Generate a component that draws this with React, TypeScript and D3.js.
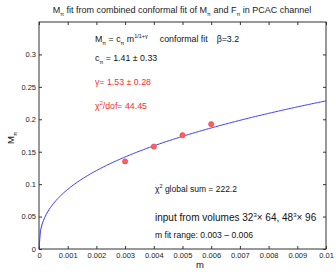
import React, { useEffect, useRef } from 'react';
import * as d3 from 'd3';

// measured data (m, M_pi)
const mValues = [0.003, 0.004, 0.005, 0.006];
const mpiValues = [0.135, 0.158, 0.1755, 0.1925];

// fit parameters shown on the chart
const cPi = 1.41;
const gammaFit = 1.53;

const xTicks = [0, 0.001, 0.002, 0.003, 0.004, 0.005, 0.006, 0.007, 0.008, 0.009, 0.01];
const xTickLabels = ['0', '0.001', '0.002', '0.003', '0.004', '0.005', '0.006', '0.007', '0.008', '0.009', '0.01'];
const yTicks = [0, 0.05, 0.1, 0.15, 0.2, 0.25, 0.3];
const yTickLabels = ['0', '0.05', '0.1', '0.15', '0.2', '0.25', '0.3'];

const FONT = '"Liberation Sans", Arial, Helvetica, sans-serif';

const App = () => {
  const ref = useRef(null);

  useEffect(() => {
    const W = 336, H = 273;
    const margin = { top: 22, right: 10, bottom: 24, left: 39 };
    const svg = d3.select(ref.current).attr('width', W).attr('height', H);
    svg.selectAll('*').remove();
    svg.append('rect').attr('width', W).attr('height', H).attr('fill', '#fff');

    const x = d3.scaleLinear().domain([0, 0.01]).range([margin.left, W - margin.right]);
    const y = d3.scaleLinear().domain([0, 0.35]).range([H - margin.bottom, margin.top]);

    const axisColor = '#333';
    const tl = 3;

    // bottom axis (ticks inside)
    const bottom = svg.append('g')
      .attr('transform', `translate(0,${H - margin.bottom})`)
      .call(d3.axisBottom(x).tickValues(xTicks).tickSizeInner(-tl).tickSizeOuter(0)
        .tickFormat((d, i) => xTickLabels[i]).tickPadding(5));
    // top axis ticks
    const top = svg.append('g')
      .attr('transform', `translate(0,${margin.top})`)
      .call(d3.axisTop(x).tickValues(xTicks).tickSizeInner(-tl).tickSizeOuter(0).tickFormat(() => ''));
    const left = svg.append('g')
      .attr('transform', `translate(${margin.left},0)`)
      .call(d3.axisLeft(y).tickValues(yTicks).tickSizeInner(-tl).tickSizeOuter(0)
        .tickFormat((d, i) => yTickLabels[i]).tickPadding(3));
    const right = svg.append('g')
      .attr('transform', `translate(${W - margin.right},0)`)
      .call(d3.axisRight(y).tickValues(yTicks).tickSizeInner(-tl).tickSizeOuter(0).tickFormat(() => ''));

    [bottom, top, left, right].forEach(g => {
      g.select('.domain').remove();
      g.selectAll('line').attr('stroke', axisColor);
      g.selectAll('text').style('font-family', FONT).style('font-size', '7.5px').attr('fill', '#222');
    });
    bottom.selectAll('text').attr('dy', '0.5em');

    // box
    svg.append('rect')
      .attr('x', margin.left).attr('y', margin.top)
      .attr('width', W - margin.left - margin.right)
      .attr('height', H - margin.top - margin.bottom)
      .attr('fill', 'none').attr('stroke', axisColor).attr('stroke-width', 1);

    // fit curve
    const curveM = d3.range(0, 0.01 + 1e-9, 0.00005);
    const line = d3.line<number>()
      .x(d => x(d))
      .y(d => y(cPi * Math.pow(d, 1 / (1 + gammaFit))));
    svg.append('path')
      .datum(curveM)
      .attr('d', line)
      .attr('fill', 'none')
      .attr('stroke', '#3a3aff')
      .attr('stroke-width', 1);

    // data points
    svg.append('g').selectAll('circle')
      .data(mValues)
      .enter().append('circle')
      .attr('cx', (d) => x(d))
      .attr('cy', (d, i) => y(mpiValues[i]))
      .attr('r', 2.6)
      .attr('fill', '#ff6060')
      .attr('stroke', '#f03a3a')
      .attr('stroke-width', 0.6);

    const txt = (xx, yy, size, color) => svg.append('text')
      .attr('x', xx).attr('y', yy)
      .style('font-family', FONT).style('font-size', size + 'px')
      .attr('fill', color);

    // title
    const t = txt(182, 13, 9, '#222').attr('text-anchor', 'middle');
    t.append('tspan').text('M');
    t.append('tspan').attr('dy', 3).style('font-size', '5.5px').text('π');
    t.append('tspan').attr('dy', -3).text(' fit from combined conformal fit of M');
    t.append('tspan').attr('dy', 3).style('font-size', '5.5px').text('π');
    t.append('tspan').attr('dy', -3).text(' and F');
    t.append('tspan').attr('dy', 3).style('font-size', '5.5px').text('π');
    t.append('tspan').attr('dy', -3).text(' in PCAC channel');

    // formula
    const f = txt(95, 42, 8.8, '#111');
    f.append('tspan').text('M');
    f.append('tspan').attr('dy', 3).style('font-size', '5.5px').text('π');
    f.append('tspan').attr('dy', -3).text(' =  c');
    f.append('tspan').attr('dy', 3).style('font-size', '5.5px').text('π');
    f.append('tspan').attr('dy', -3).text(' m');
    f.append('tspan').attr('dy', -4).style('font-size', '5.5px').text('1/1+γ');
    f.append('tspan').attr('dy', 4).attr('dx', 12).text('conformal fit');
    f.append('tspan').attr('dx', 9).text('β=3.2');

    const c = txt(95, 61, 8.8, '#111');
    c.append('tspan').text('c');
    c.append('tspan').attr('dy', 3).style('font-size', '5.5px').text('π');
    c.append('tspan').attr('dy', -3).text(' =  1.41 ± 0.33');

    txt(95, 85, 8.8, '#ff2a2a').text('γ=  1.53 ± 0.28');

    const chi = txt(95, 109, 8.8, '#ff2a2a');
    chi.append('tspan').text('χ');
    chi.append('tspan').attr('dy', -4).style('font-size', '5.5px').text('2');
    chi.append('tspan').attr('dy', 4).text('/dof= 44.45');

    const g2 = txt(155, 192, 8.5, '#111');
    g2.append('tspan').text('χ');
    g2.append('tspan').attr('dy', -4).style('font-size', '5.5px').text('2');
    g2.append('tspan').attr('dy', 4).text(' global sum = 222.2');

    const inp = txt(155, 221, 10, '#111');
    inp.append('tspan').text('input from volumes  32');
    inp.append('tspan').attr('dy', -4).style('font-size', '6px').text('3');
    inp.append('tspan').attr('dy', 4).text('× 64, 48');
    inp.append('tspan').attr('dy', -4).style('font-size', '6px').text('3');
    inp.append('tspan').attr('dy', 4).text('× 96');

    txt(155, 238, 8.6, '#111').text('m fit range:  0.003 – 0.006');

    // axis labels
    txt(200, 268, 9.5, '#111').attr('text-anchor', 'middle').text('m');
    const yl = svg.append('text')
      .attr('transform', `translate(14,138) rotate(-90)`)
      .attr('text-anchor', 'middle')
      .style('font-family', FONT).style('font-size', '9.5px').attr('fill', '#111');
    yl.append('tspan').text('M');
    yl.append('tspan').attr('dy', 3).style('font-size', '6px').text('π');
  }, []);

  return <svg ref={ref} style={{ position: 'absolute', left: 0, top: 0, display: 'block' }}></svg>;
};

export default App;
